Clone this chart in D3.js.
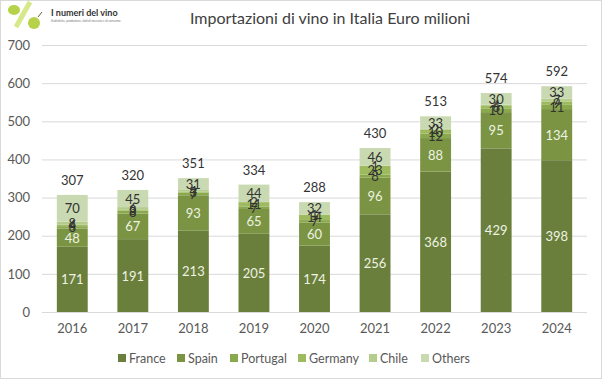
<!DOCTYPE html>
<html>
<head>
<meta charset="utf-8">
<script src="https://cdn.jsdelivr.net/npm/d3@7"></script>
<style>
  body { margin: 0; background: #fff; }
  text { font-family: Lato, "Open Sans", sans-serif; }
</style>
</head>
<body>
<div id="chart"></div>
<script>
// data (Euro milioni)
const years = ["2016", "2017", "2018", "2019", "2020", "2021", "2022", "2023", "2024"];
const france   = [171, 191, 213, 205, 174, 256, 368, 429, 398];
const spain    = [48, 67, 93, 65, 60, 96, 88, 95, 134];
const portugal = [6, 8, 7, 7, 7, 8, 12, 10, 11];
const germany  = [4, 3, 3, 11, 14, 23, 10, 6, 9];
const chile    = [8, 6, 4, 2, 1, 1, 2, 4, 7];
const others   = [70, 45, 31, 44, 32, 46, 33, 30, 33];
const seriesNames = ["France", "Spain", "Portugal", "Germany", "Chile", "Others"];
const yTicks = [0, 100, 200, 300, 400, 500, 600, 700];

const colors = ["#6b7f3d", "#7a9444", "#8aa84e", "#9dbb5e", "#b4cc8c", "#c9d9b1"];
const labelColors = ["#eef3e2", "#eef3e2", "#333", "#333", "#333", "#333"];

const W = 602, H = 379;
const margin = { top: 45, right: 15, bottom: 67, left: 42 },
      width = W - margin.left - margin.right,
      height = H - margin.top - margin.bottom;

const svg = d3.select("#chart").append("svg")
  .attr("width", W).attr("height", H);

// chart border
svg.append("rect")
  .attr("x", 0.5).attr("y", 0.5).attr("width", W - 1).attr("height", H - 1)
  .attr("fill", "#fff").attr("stroke", "#d9d9d9");

// logo
const logo = svg.append("g");
logo.append("rect").attr("x", 1).attr("y", 1).attr("width", 117).attr("height", 28).attr("fill", "#fff");
logo.append("line").attr("x1", 30).attr("y1", 2).attr("x2", 16).attr("y2", 27)
  .attr("stroke", "#d6e88a").attr("stroke-width", 5);
logo.append("ellipse").attr("cx", 14).attr("cy", 10).attr("rx", 6).attr("ry", 5).attr("fill", "#b6d24a");
logo.append("ellipse").attr("cx", 34).attr("cy", 23).attr("rx", 6).attr("ry", 6).attr("fill", "#b6d24a");
logo.append("line").attr("x1", 38).attr("y1", 17).attr("x2", 42).attr("y2", 12).attr("stroke", "#6b5a30").attr("stroke-width", 1);
logo.append("text").attr("x", 51).attr("y", 16).attr("font-size", 9).attr("font-weight", "bold")
  .attr("fill", "#333").text("I numeri del vino");
logo.append("text").attr("x", 51).attr("y", 22).attr("font-size", 3).attr("fill", "#777")
  .text("Statistiche, produzione, dati di mercato e di consumo");

// title
svg.append("text")
  .attr("x", 330).attr("y", 24)
  .attr("text-anchor", "middle")
  .attr("font-size", 16)
  .attr("fill", "#404040")
  .text("Importazioni di vino in Italia Euro milioni");

const g = svg.append("g").attr("transform", `translate(${margin.left},${margin.top})`);

const x = d3.scaleBand().domain(years).range([0, width]).paddingInner(0.49).paddingOuter(0.245);
const y = d3.scaleLinear().domain([0, 700]).range([height, 0]);

// gridlines
g.append("g")
  .call(d3.axisLeft(y).tickValues(yTicks).tickSize(-width).tickFormat(""))
  .call(a => a.select(".domain").remove())
  .selectAll("line").attr("stroke", "#d9d9d9");

// y tick labels
g.append("g")
  .call(d3.axisLeft(y).tickValues(yTicks).tickSize(0).tickPadding(12))
  .call(a => a.select(".domain").remove())
  .selectAll("text")
    .attr("font-family", "Lato, sans-serif")
    .attr("font-size", 13)
    .attr("fill", "#595959");

// x tick labels
g.append("g")
  .attr("transform", `translate(0,${height})`)
  .call(d3.axisBottom(x).tickSize(0).tickPadding(12))
  .call(a => a.select(".domain").remove())
  .selectAll("text")
    .attr("font-family", "Lato, sans-serif")
    .attr("font-size", 13)
    .attr("fill", "#595959");

// stack
const table = years.map((yr, i) => ({
  year: yr,
  France: france[i], Spain: spain[i], Portugal: portugal[i],
  Germany: germany[i], Chile: chile[i], Others: others[i]
}));
const stacked = d3.stack().keys(seriesNames)(table);

const layers = g.selectAll(".layer")
  .data(stacked)
  .enter().append("g")
    .attr("fill", (d, i) => colors[i]);

layers.selectAll("rect")
  .data(d => d)
  .enter().append("rect")
    .attr("x", d => x(d.data.year))
    .attr("y", d => y(d[1]))
    .attr("width", x.bandwidth())
    .attr("height", d => y(d[0]) - y(d[1]));

// segment labels
stacked.forEach((layer, li) => {
  g.selectAll(null)
    .data(layer)
    .enter().append("text")
      .attr("x", d => x(d.data.year) + x.bandwidth() / 2)
      .attr("y", d => (y(d[0]) + y(d[1])) / 2 + 5)
      .attr("text-anchor", "middle")
      .attr("font-size", 13)
      .attr("fill", labelColors[li])
      .text(d => d[1] - d[0]);
});

// totals
g.selectAll(".total")
  .data(table)
  .enter().append("text")
    .attr("x", d => x(d.year) + x.bandwidth() / 2)
    .attr("y", d => y(seriesNames.reduce((s, k) => s + d[k], 0)) - 10)
    .attr("text-anchor", "middle")
    .attr("font-size", 13)
    .attr("fill", "#333")
    .text(d => seriesNames.reduce((s, k) => s + d[k], 0));

// legend
const legendX = [118, 177, 230, 298, 369, 421];
const legend = svg.append("g").attr("transform", "translate(0,358)");
seriesNames.forEach((name, i) => {
  legend.append("rect")
    .attr("x", legendX[i]).attr("y", -4).attr("width", 8).attr("height", 8)
    .attr("fill", colors[i]);
  legend.append("text")
    .attr("x", legendX[i] + 11).attr("y", 4.5)
    .attr("font-size", 12.5)
    .attr("fill", "#595959")
    .text(name);
});
</script>
</body>
</html>
